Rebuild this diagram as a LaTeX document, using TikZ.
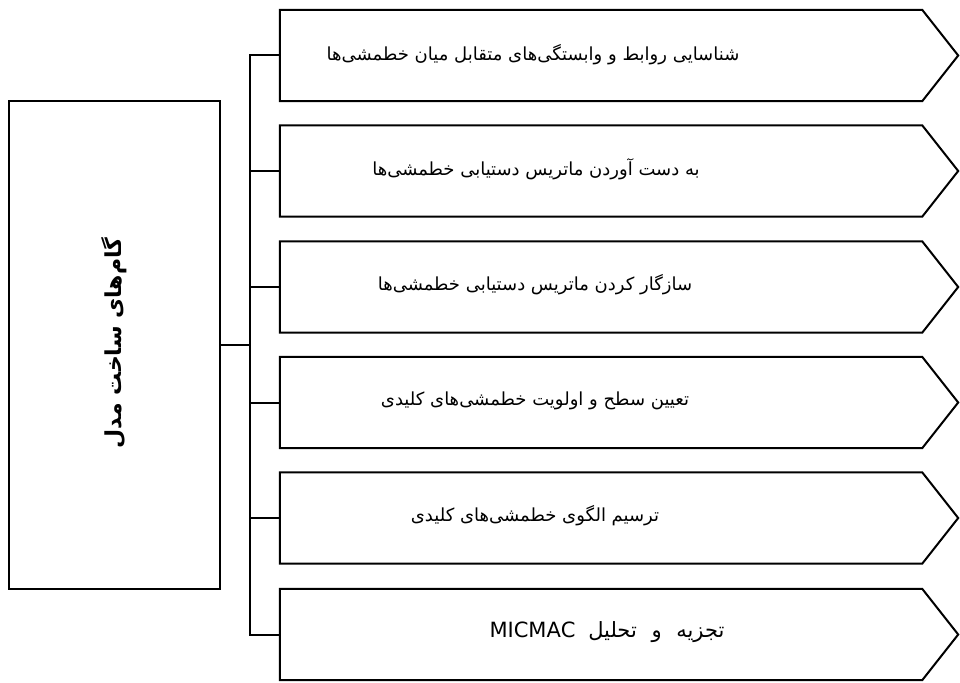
\documentclass[tikz,border=0pt]{standalone}
\usepackage{fontspec}
\usetikzlibrary{calc}
\newfontfamily\fa[Script=Arabic]{DejaVu Sans}
\TeXXeTstate=1
\begin{document}
\begin{tikzpicture}[x=1pt,y=-1pt,
  box/.style={draw=black,line width=2pt,inner sep=0pt},
  bodybox/.style={inner sep=0pt,minimum width=642pt,minimum height=91pt},
  shapeline/.style={draw=black,line width=2pt,line join=miter},
  conn/.style={draw=black,line width=2pt},
  steptext/.style={inner sep=0pt,font=\fa\fontsize{18}{22}\selectfont},
  maintext/.style={inner sep=0pt,rotate=90,font=\fa\bfseries\fontsize{22}{26}\selectfont}]
\useasboundingbox (0,0) rectangle (960,682);
\node[box,minimum width=211pt,minimum height=488pt] (main) at (114.5,345) {};
\node[maintext] (mt) at ($(main.center)+(0,-2)$) {\beginR گام^^^^200cهای ساخت مدل\endR};
\foreach \i/\y in {1/55.5,2/171,3/287,4/402.5,5/518,6/634.5}{
  \node[bodybox] (s\i) at (601,\y) {};
  \draw[shapeline] (s\i.north west) -- (s\i.north east) -- ($(s\i.east)+(36,0)$) -- (s\i.south east) -- (s\i.south west) -- cycle;
}
\node[steptext] (t1) at ($(s1.center)+(-68,-1)$) {\beginR شناسایی روابط و وابستگی^^^^200cهای متقابل میان خطمشی^^^^200cها\endR};
\node[steptext] (t2) at ($(s2.center)+(-65,-2)$) {\beginR به دست آوردن ماتریس دستیابی خطمشی^^^^200cها\endR};
\node[steptext] (t3) at ($(s3.center)+(-66,-2)$) {\beginR سازگار کردن ماتریس دستیابی خطمشی^^^^200cها\endR};
\node[steptext] (t4) at ($(s4.center)+(-66,-2)$) {\beginR تعیین سطح و اولویت خطمشی^^^^200cهای کلیدی\endR};
\node[steptext] (t5) at ($(s5.center)+(-66,-2)$) {\beginR ترسیم الگوی خطمشی^^^^200cهای کلیدی\endR};
\node[steptext,font=\fa\fontsize{21}{25}\selectfont] (t6) at ($(s6.center)+(6,-2)$) {\beginR تجزیه\hspace{8pt} و\hspace{8pt} تحلیل\hspace{6pt} \beginL MICMAC\endL\endR};
\coordinate (j) at (250,345);
\draw[conn] (main.east) -- (j);
\draw[conn,line join=miter] (s1.west) -- (s1.west -| j) -- (s6.west -| j) -- (s6.west);
\foreach \i in {2,3,4,5}{
  \draw[conn] (s\i.west) -- (s\i.west -| j);
}
\end{tikzpicture}
\end{document}
